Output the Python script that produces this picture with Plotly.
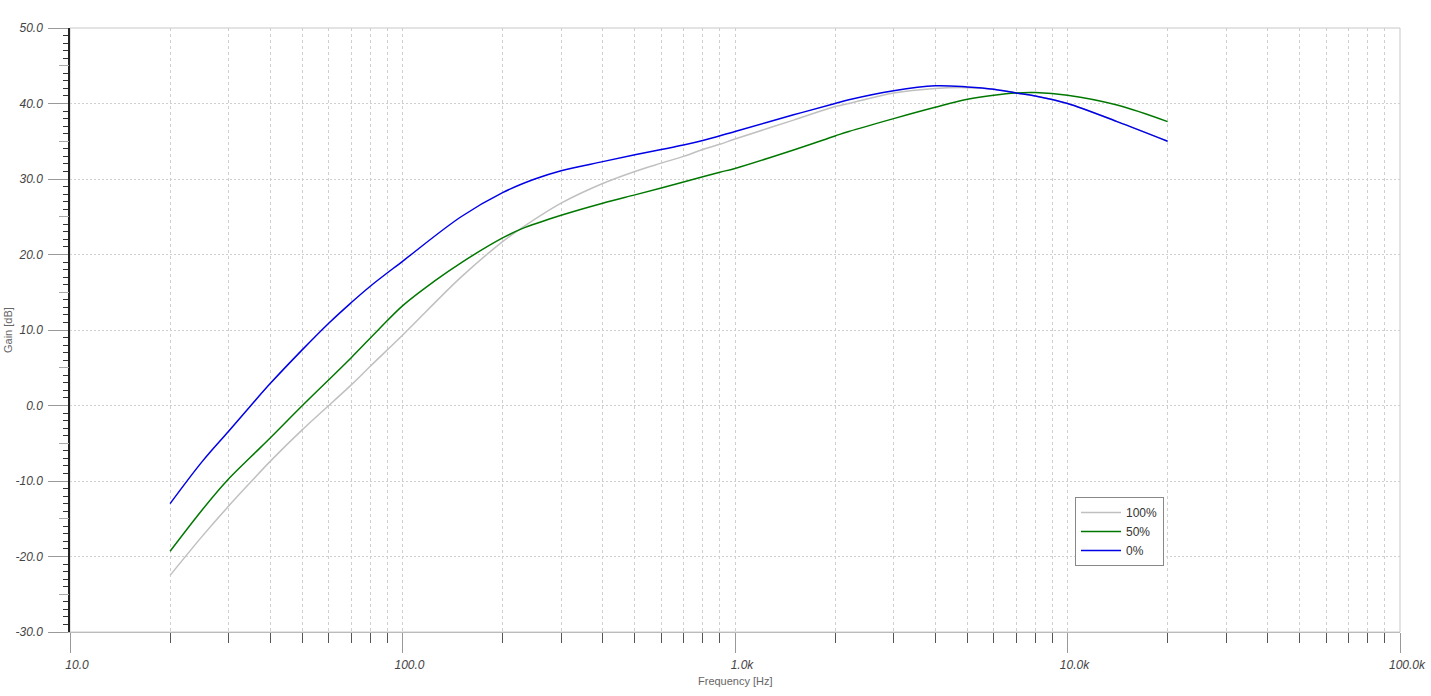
import plotly.graph_objects as go

# ---------------- data ----------------
series_names = ["100%", "50%", "0%"]

gray_f = [20, 25, 29.6, 35.2, 40, 50, 70, 80, 100, 150, 200, 228, 300, 400, 500, 600, 700,
          800, 900, 1000, 1500, 2000, 2200, 3000, 4000, 5000, 6000, 7000, 8000, 10000, 14100, 20000]
gray_db = [-22.5, -17.3, -13.6, -10.0, -7.4, -3.2, 2.7, 5.2, 9.3, 17.0, 21.7, 23.5, 26.8, 29.4,
           31.0, 32.1, 33.0, 33.9, 34.6, 35.3, 37.8, 39.6, 40.0, 41.4, 42.0, 42.1, 41.9, 41.4, 41.0,
           40.0, 37.6, 35.0]

green_f = [20, 25, 29.6, 35, 40, 50, 70, 84.5, 100, 125, 150, 200, 228, 300, 400, 500, 600, 700,
           800, 900, 1000, 1500, 2000, 2200, 3000, 4000, 5000, 6000, 7000, 8000, 10000, 14100, 20000]
green_db = [-19.3, -13.8, -10.0, -6.8, -4.3, 0.0, 6.3, 10.0, 13.2, 16.5, 18.9, 22.2, 23.4, 25.2,
            26.8, 27.9, 28.8, 29.6, 30.3, 30.9, 31.4, 33.85, 35.7, 36.3, 38.0, 39.5, 40.55, 41.1,
            41.4, 41.45, 41.1, 39.8, 37.6]

blue_f = [20, 25, 30, 35, 40, 50, 60, 70, 80, 100, 150, 200, 250, 300, 400, 500, 600, 700,
          800, 1000, 1500, 2000, 2200, 3000, 4000, 5000, 6000, 7000, 8000, 10000, 14100, 20000]
blue_db = [-13.0, -7.4, -3.4, 0.0, 2.9, 7.4, 10.9, 13.6, 15.8, 19.1, 25.0, 28.2, 30.0, 31.1,
           32.3, 33.2, 33.9, 34.5, 35.1, 36.3, 38.5, 40.0, 40.5, 41.7, 42.35, 42.2, 41.9, 41.4,
           41.0, 40.0, 37.6, 35.0]

x_tickvals = [10, 100, 1000, 10000, 100000]
x_ticktext = ["10.0", "100.0", "1.0k", "10.0k", "100.0k"]
x_minor = [m * d for d in (10, 100, 1000, 10000) for m in range(2, 10)]
y_tickvals = list(range(-30, 51, 10))
y_ticktext = ["%.1f" % v for v in y_tickvals]
y_mid = list(range(-25, 50, 10))

colors = ["#c0c0c0", "#007800", "#0000e6"]

FONT = "Liberation Sans, Arial, sans-serif"
GRID = "#cfcfcf"

fig = go.Figure()
for name, fx, fy, c in zip(series_names, [gray_f, green_f, blue_f],
                           [gray_db, green_db, blue_db], colors):
    fig.add_trace(go.Scatter(x=fx, y=fy, name=name, mode="lines",
                             line=dict(color=c, width=1.5, shape="spline", smoothing=1.0)))

# invisible trace for the secondary (5 dB) tick axis
fig.add_trace(go.Scatter(x=[100], y=[0], yaxis="y2", mode="markers",
                         marker=dict(opacity=0), showlegend=False, hoverinfo="skip"))

fig.update_layout(
    width=1431, height=696,
    margin=dict(l=70, r=31, t=28, b=64, autoexpand=False),
    paper_bgcolor="white", plot_bgcolor="white",
    font=dict(family=FONT, color="#444"),
    showlegend=True,
    legend=dict(x=(1075 - 70) / 1330, y=(632 - 497) / 604, xanchor="left", yanchor="top",
                bordercolor="#888", borderwidth=1, bgcolor="white",
                font=dict(size=12, color="#333"), itemwidth=40, tracegroupgap=0),
    xaxis=dict(type="log", range=[1, 5], tickvals=x_tickvals, ticktext=x_ticktext,
               automargin=False,
               ticks="outside", ticklen=20, tickcolor="#999", tickwidth=1,
               tickfont=dict(size=12, color="#444", style="italic", family=FONT),
               ticklabelstandoff=2, ticklabelshift=7,
               showgrid=True, gridcolor=GRID, griddash="3px,3px", gridwidth=1,
               showline=True, linecolor="#bbbbbb", linewidth=1, zeroline=False,
               minor=dict(tickvals=x_minor, ticks="outside", ticklen=10, tickcolor="#555",
                          showgrid=True, gridcolor=GRID, griddash="3px,3px", gridwidth=1)),
    yaxis=dict(range=[-30, 50], tickvals=y_tickvals, ticktext=y_ticktext,
               automargin=False,
               ticks="outside", ticklen=20, tickcolor="#999", tickwidth=1,
               tickfont=dict(size=12, color="#444", style="italic", family=FONT),
               ticklabelstandoff=3,
               showgrid=True, gridcolor=GRID, griddash="2px,2px", gridwidth=1,
               showline=True, linecolor="#222", linewidth=1.5, zeroline=False,
               minor=dict(dtick=1, ticks="outside", ticklen=5, tickcolor="#333", showgrid=False)),
    yaxis2=dict(range=[-30, 50], overlaying="y", side="left", tickvals=y_mid,
                automargin=False,
                ticks="outside", ticklen=10, tickcolor="#aaa", showticklabels=False,
                showgrid=False, zeroline=False, showline=False),
    shapes=[dict(type="rect", xref="paper", yref="paper", x0=0, x1=1, y0=0, y1=1,
                 line=dict(color="#c8c8c8", width=1), layer="below")],
    annotations=[
        dict(text="Frequency [Hz]", xref="paper", yref="paper", x=0.5, y=-(681 - 632) / 604,
             showarrow=False, xanchor="center", yanchor="middle",
             font=dict(size=11, color="#666", family=FONT)),
        dict(text="Gain [dB]", xref="paper", yref="paper", x=-(70 - 8) / 1330, y=0.5,
             showarrow=False, xanchor="center", yanchor="middle", textangle=-90,
             font=dict(size=11, color="#666", family=FONT)),
    ],
)

# remove the default 8px page margin so the figure fills the window exactly
fig.write_html("out.html", config={"displayModeBar": False},
               post_script="document.body.style.margin='0';document.body.style.overflow='hidden';")
